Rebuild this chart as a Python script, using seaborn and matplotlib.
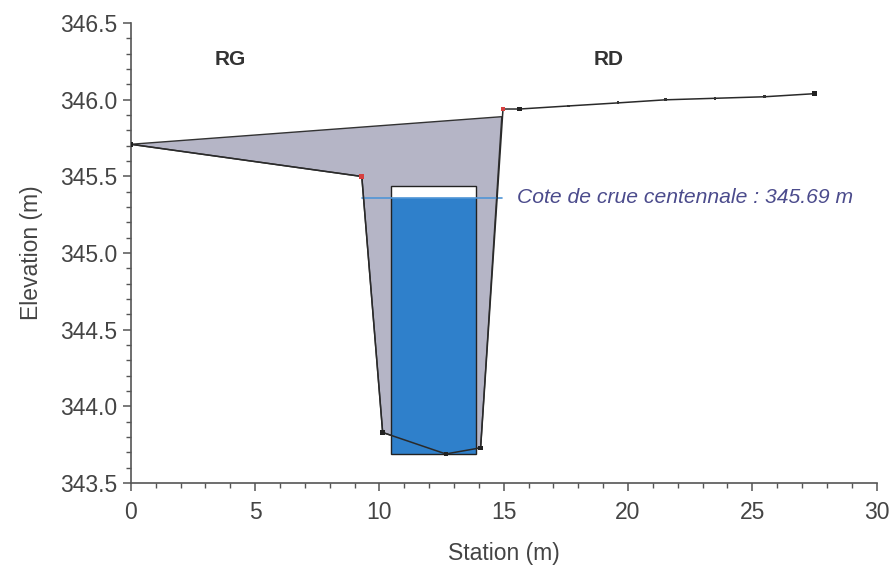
import pandas as pd
import matplotlib.pyplot as plt
import seaborn as sns
from matplotlib.patches import Polygon, Rectangle
from matplotlib.ticker import MultipleLocator

# Ground profile (station, elevation)
station = [0.0, 9.29, 10.13, 12.67, 14.07, 14.97, 15.64, 17.6, 19.6, 21.5, 23.5, 25.5, 27.5]
elevation = [345.71, 345.50, 343.83, 343.69, 343.73, 345.94, 345.94, 345.96, 345.98, 346.00, 346.01, 346.02, 346.04]
marker_kind = ["black", "red", "black", "black", "black", "red", "black",
               "line", "line", "line", "line", "line", "black"]

# Flow area (grey polygon)
area_station = [0.0, 9.29, 10.13, 12.67, 14.07, 14.92]
area_elevation = [345.71, 345.50, 343.83, 343.69, 343.73, 345.89]

# Culvert / structure
struct_left, struct_right = 10.45, 13.87
struct_bottom, struct_top = 343.69, 345.44
water_level = 345.36
water_x = [9.29, 14.92]

flood_label = "Cote de crue centennale : 345.69 m"

sns.set_style("ticks")
plt.rcParams['font.family'] = ['Liberation Sans', 'DejaVu Sans']

fig = plt.figure(figsize=(8.9, 5.65), dpi=100)
ax = fig.add_axes([0.147, 0.145, 0.838, 0.814])

grey = "#b5b5c6"
ax.add_patch(Polygon(list(zip(area_station, area_elevation)), closed=True,
                     facecolor=grey, edgecolor="#333333", linewidth=1.0, zorder=1))

# structure: blue water + white gap on top
ax.add_patch(Rectangle((struct_left, struct_bottom), struct_right - struct_left,
                       water_level - struct_bottom, facecolor="#2f80cb", edgecolor="none", zorder=2))
ax.add_patch(Rectangle((struct_left, water_level), struct_right - struct_left,
                       struct_top - water_level, facecolor="white", edgecolor="none", zorder=2))
ax.add_patch(Rectangle((struct_left, struct_bottom), struct_right - struct_left,
                       struct_top - struct_bottom, facecolor="none", edgecolor="#222222",
                       linewidth=1.0, zorder=3))

# water level line
sns.lineplot(x=water_x, y=[water_level, water_level], color="#4f95d6", linewidth=1.2, ax=ax, zorder=3)

# ground profile
df = pd.DataFrame({"station": station, "elevation": elevation, "kind": marker_kind})
sns.lineplot(data=df, x="station", y="elevation", sort=False, color="#2a2a2a",
             linewidth=1.1, ax=ax, zorder=4)
pts = df[df["kind"] != "line"]
sns.scatterplot(data=pts, x="station", y="elevation", hue="kind",
                palette={"black": "#222222", "red": "#d6403f"}, marker="s", s=11,
                edgecolor="none", legend=False, ax=ax, zorder=5)
small = df[df["kind"] == "line"]
sns.scatterplot(data=small, x="station", y="elevation", color="#333333", marker="s", s=4,
                edgecolor="none", legend=False, ax=ax, zorder=5)

ax.text(15.55, water_level, flood_label, color="#4b4b8c", style="italic",
        fontsize=15.2, va="center", ha="left")
ax.text(4.0, 346.26, "RG", fontsize=15, fontweight="bold", color="#333333", ha="center", va="center")
ax.text(19.2, 346.26, "RD", fontsize=15, fontweight="bold", color="#333333", ha="center", va="center")

ax.set_xlim(0, 30)
ax.set_ylim(343.5, 346.5)
ax.xaxis.set_major_locator(MultipleLocator(5))
ax.xaxis.set_minor_locator(MultipleLocator(1))
ax.yaxis.set_major_locator(MultipleLocator(0.5))
ax.yaxis.set_minor_locator(MultipleLocator(0.1))
ax.yaxis.set_major_formatter(plt.FormatStrFormatter("%.1f"))

tick_col = "#555555"
ax.tick_params(which="major", length=6, width=1.1, color=tick_col, labelsize=16.5,
               labelcolor="#444444", pad=4)
ax.tick_params(which="minor", length=3.5, width=1.0, color=tick_col)
ax.tick_params(axis="x", which="major", pad=7)

sns.despine(ax=ax)
for s in ["left", "bottom"]:
    ax.spines[s].set_color(tick_col)
    ax.spines[s].set_linewidth(1.2)

ax.set_xlabel("Station (m)", fontsize=16.5, color="#444444", labelpad=13)
ax.set_ylabel("Elevation (m)", fontsize=16.5, color="#444444", labelpad=12)

fig.savefig("out.png", dpi=100)
